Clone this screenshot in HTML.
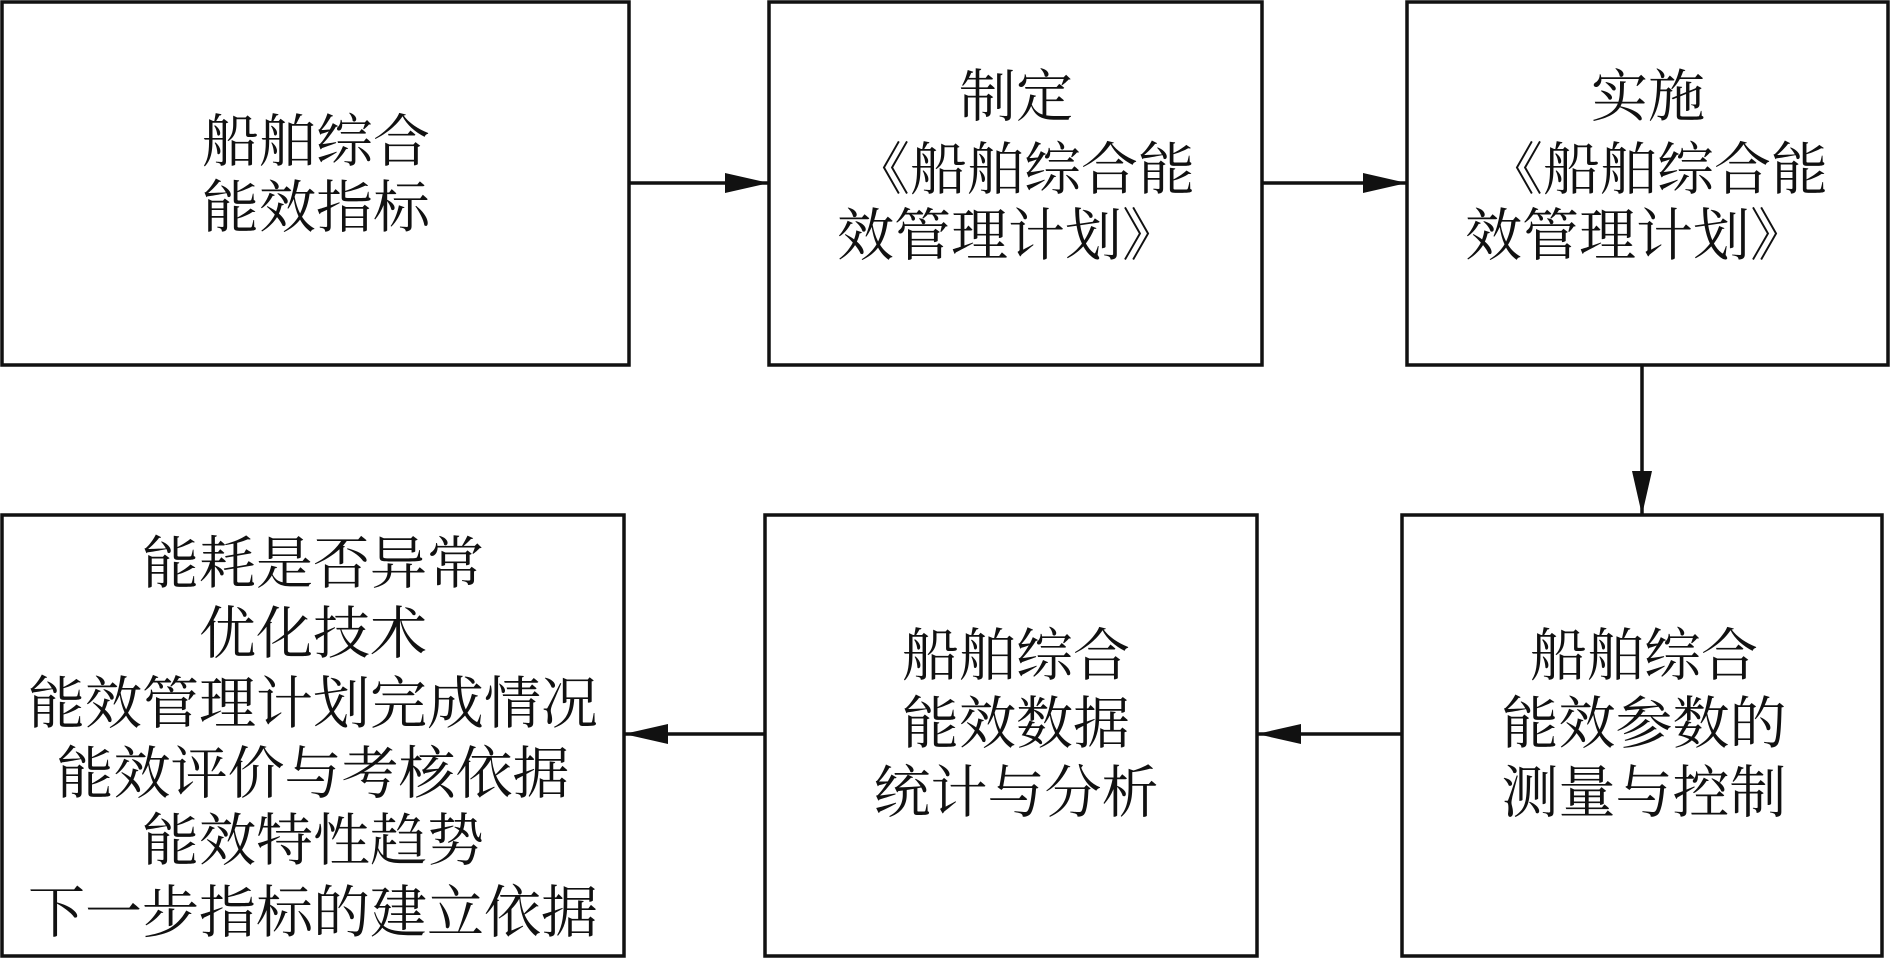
<!DOCTYPE html>
<html><head><meta charset="utf-8"><style>html,body{margin:0;padding:0;background:#fff}svg{display:block}</style></head>
<body>
<svg width="1890" height="961" viewBox="0 0 1890 961" xmlns="http://www.w3.org/2000/svg">
<defs><marker id="a" markerWidth="12" markerHeight="10" refX="12" refY="5" orient="auto" markerUnits="userSpaceOnUse"><path d="M0,0 L0,0 L12,5 L0,10 Z" fill="#111"/></marker>
<marker id="b" markerWidth="44" markerHeight="20" refX="44" refY="10" orient="auto" markerUnits="userSpaceOnUse"><path d="M0,0 L44,10 L0,20 Z" fill="#111"/></marker></defs>
<g fill="none" stroke="#111" stroke-width="3.5">
<rect x="2" y="2" width="627" height="363"/>
<rect x="769" y="2" width="493" height="363"/>
<rect x="1407" y="2" width="481" height="363"/>
<rect x="2" y="515" width="622" height="441"/>
<rect x="765" y="515" width="492" height="441"/>
<rect x="1402" y="515" width="480" height="441"/>
<line x1="629" y1="183" x2="769" y2="183" marker-end="url(#b)"/>
<line x1="1262" y1="183" x2="1407" y2="183" marker-end="url(#b)"/>
<line x1="1642" y1="365" x2="1642" y2="515" marker-end="url(#b)"/>
<line x1="1402" y1="734" x2="1257" y2="734" marker-end="url(#b)"/>
<line x1="765" y1="734" x2="624" y2="734" marker-end="url(#b)"/>
</g>
<g font-family="'Liberation Serif','Noto Serif CJK SC','Noto Sans CJK SC',serif" font-size="57" fill="#111" text-anchor="middle">
<text x="316" y="161">船舶综合</text>
<text x="316" y="227">能效指标</text>
<text x="1016" y="116">制定</text>
<text x="1024" y="189">《船舶综合能</text>
<text x="1008" y="255">效管理计划》</text>
<text x="1648" y="116">实施</text>
<text x="1657" y="189">《船舶综合能</text>
<text x="1636" y="255">效管理计划》</text>
<text x="313" y="583">能耗是否异常</text>
<text x="313" y="653">优化技术</text>
<text x="313" y="723">能效管理计划完成情况</text>
<text x="313" y="793">能效评价与考核依据</text>
<text x="313" y="860">能效特性趋势</text>
<text x="313" y="932">下一步指标的建立依据</text>
<text x="1016" y="675">船舶综合</text>
<text x="1016" y="743">能效数据</text>
<text x="1016" y="812">统计与分析</text>
<text x="1644" y="675">船舶综合</text>
<text x="1644" y="743">能效参数的</text>
<text x="1644" y="812">测量与控制</text>
</g>
</svg>
</body></html>
